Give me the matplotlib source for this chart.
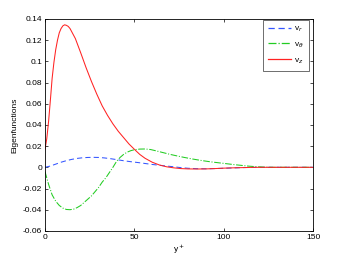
import matplotlib
matplotlib.use('Agg')
import matplotlib.pyplot as plt
from matplotlib.ticker import FormatStrFormatter

plt.rcParams['font.family'] = ['Liberation Sans', 'DejaVu Sans']
plt.rcParams['axes.unicode_minus'] = False

# values
x_red = [0, 1, 2, 3, 4, 5, 6, 7, 8, 9, 10, 11, 12, 13, 14, 17, 20, 23, 26, 29, 32, 35, 38, 41,
         44, 47, 50, 53, 56, 60, 64, 68, 72, 76, 80, 85, 90, 95, 100, 105, 110, 115, 120, 130, 150]
v_z = [0.017, 0.027, 0.043, 0.063, 0.084, 0.099, 0.111, 0.120, 0.127, 0.131, 0.1335, 0.1345,
       0.134, 0.133, 0.131, 0.1215, 0.108, 0.094, 0.081, 0.069, 0.058, 0.049, 0.041, 0.034, 0.028,
       0.022, 0.017, 0.0122, 0.0085, 0.0048, 0.0022, 0.0005, -0.0005, -0.0012, -0.0015, -0.0016,
       -0.0015, -0.0012, -0.0008, -0.0005, -0.0003, -0.0001, 0, 0, 0]

x_blue = [0, 3, 6, 9, 12, 15, 18, 21, 24, 27, 30, 33, 36, 40, 44, 48, 52, 56, 60, 64, 68, 72, 76,
          80, 85, 90, 95, 100, 105, 110, 115, 120, 150]
v_r = [0, 0.0012, 0.003, 0.0048, 0.0063, 0.0075, 0.0084, 0.009, 0.0093, 0.0094, 0.0093, 0.0089,
       0.0083, 0.0073, 0.0062, 0.0053, 0.0045, 0.0036, 0.0027, 0.0019, 0.0012, 0.0005, -0.0003,
       -0.0009, -0.0013, -0.0014, -0.0012, -0.0009, -0.0006, -0.0003, -0.0001, 0, 0]

x_green = [0, 1, 2, 3, 4, 6, 8, 10, 12, 14, 16, 18, 20, 22, 24, 26, 28, 30, 32, 34, 36, 38, 40, 42,
           44, 46, 48, 50, 53, 56, 59, 62, 66, 70, 74, 78, 83, 88, 93, 98, 102, 106, 110, 114, 118,
           122, 127, 150]
v_theta = [-0.004, -0.010, -0.016, -0.021, -0.026, -0.032, -0.036, -0.0385, -0.0398, -0.040,
           -0.0395, -0.038, -0.036, -0.033, -0.030, -0.027, -0.023, -0.019, -0.014, -0.010,
           -0.005, 0.000, 0.0055, 0.0093, 0.0122, 0.0143, 0.0157, 0.0166, 0.0172, 0.0173, 0.0168,
           0.0156, 0.0139, 0.0122, 0.0107, 0.0093, 0.0077, 0.0063, 0.0051, 0.0041, 0.0033, 0.0025,
           0.0018, 0.0011, 0.0006, 0.0002, 0, 0]

fig = plt.figure(figsize=(3.46, 2.6), dpi=100)
ax = fig.add_axes([0.130, 0.112, 0.775, 0.815])

ax.plot(x_blue, v_r, '--', color='#3355ff', lw=0.75, label='v$_r$', dashes=(5, 3))
ax.plot(x_green, v_theta, '-.', color='#22cc22', lw=0.75, label=r'v$_\theta$')
ax.plot(x_red, v_z, '-', color='#ff2222', lw=0.75, label='v$_z$')

ax.set_xlim(0, 150)
ax.set_ylim(-0.06, 0.14)
ax.set_xticks([0, 50, 100, 150])
ax.set_yticks([-0.06, -0.04, -0.02, 0, 0.02, 0.04, 0.06, 0.08, 0.1, 0.12, 0.14])
ax.yaxis.set_major_formatter(FormatStrFormatter('%g'))
ax.tick_params(direction='in', length=2.5, width=0.5, labelsize=6, top=True, right=True, pad=2)
for s in ax.spines.values():
    s.set_linewidth(0.6)

ax.set_xlabel('y$^+$', fontsize=6, labelpad=1)
ax.set_ylabel('Eigenfunctions', fontsize=6, labelpad=3.5)

leg = ax.legend(loc='upper right', fontsize=6, fancybox=False, edgecolor='black',
                handlelength=2.8, handletextpad=0.35, borderpad=0.6, labelspacing=0.75,
                borderaxespad=0, bbox_to_anchor=(0.985, 0.997))
leg.get_frame().set_linewidth(0.5)
for line in leg.get_lines():
    line.set_linewidth(0.9)

fig.savefig('out.png', dpi=100)
